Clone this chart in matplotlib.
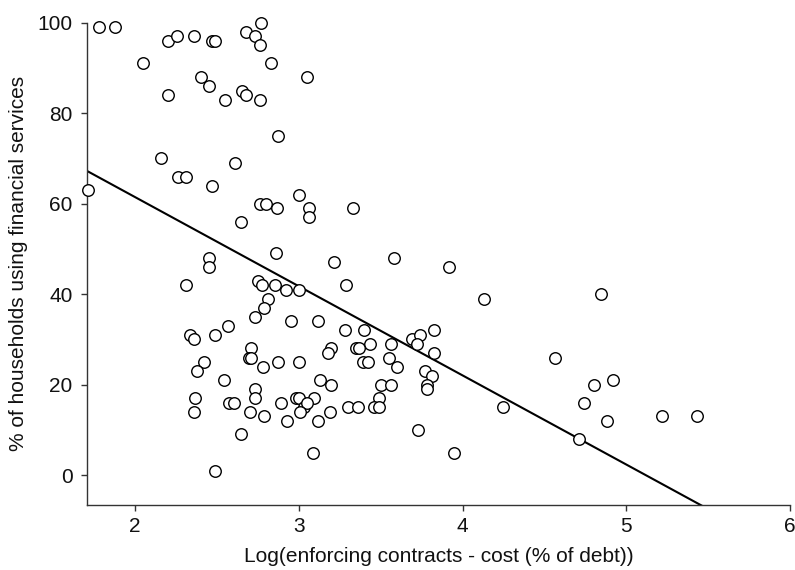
import numpy as np
import matplotlib
matplotlib.use('Agg')
import matplotlib.pyplot as plt

plt.rcParams['font.family'] = ['Liberation Sans', 'DejaVu Sans']

# log of contract enforcement cost (% of debt)
log_cost = [1.78, 1.88, 2.20, 2.255, 2.357, 2.47, 2.49, 2.68, 2.73, 2.77,
            2.76, 2.05, 2.83, 3.05, 2.40, 2.45, 2.20, 2.55, 2.65, 2.68,
            2.76, 2.87, 2.16, 2.61, 2.265, 2.31, 2.47, 1.715, 2.76, 2.80,
            3.00, 2.867, 3.064, 3.064, 2.646, 3.33, 2.862, 2.45, 2.45, 3.213,
            3.58, 3.916, 2.31, 2.748, 2.775, 2.856, 3.29, 2.92, 3.00, 4.133,
            2.81, 2.79, 2.734, 2.954, 3.115, 2.565, 3.282, 3.396, 3.692, 3.743,
            3.825, 3.72, 3.825, 3.56, 3.437, 3.352, 3.366, 3.197, 3.176, 2.875,
            3.00, 3.393, 3.42, 3.55, 3.60, 3.77, 3.815, 3.784, 3.784, 3.13,
            3.197, 3.50, 3.566, 3.488, 3.457, 3.488, 3.30, 3.362, 2.89, 2.985,
            3.00, 3.09, 3.03, 3.05, 3.01, 3.19, 2.928, 3.12, 4.247, 3.725,
            3.087, 3.945, 2.336, 2.357, 2.49, 2.71, 2.693, 2.71, 2.78, 2.42,
            2.377, 2.546, 2.734, 2.734, 2.367, 2.357, 2.571, 2.607, 2.70, 2.79,
            2.646, 2.49, 4.848, 4.565, 4.80, 4.92, 4.742, 4.885, 5.217, 5.43,
            4.714]

# % of households using financial services
pct_households = [99, 99, 96, 97, 97, 96, 96, 98, 97, 100,
                  95, 91, 91, 88, 88, 86, 84, 83, 85, 84,
                  83, 75, 70, 69, 66, 66, 64, 63, 60, 60,
                  62, 59, 59, 57, 56, 59, 49, 48, 46, 47,
                  48, 46, 42, 43, 42, 42, 42, 41, 41, 39,
                  39, 37, 35, 34, 34, 33, 32, 32, 30, 31,
                  32, 29, 27, 29, 29, 28, 28, 28, 27, 25,
                  25, 25, 25, 26, 24, 23, 22, 20, 19, 21,
                  20, 20, 20, 17, 15, 15, 15, 15, 16, 17,
                  17, 17, 15, 16, 14, 14, 12, 12, 15, 10,
                  5, 5, 31, 30, 31, 28, 26, 26, 24, 25,
                  23, 21, 19, 17, 17, 14, 16, 16, 14, 13,
                  9, 1, 40, 26, 20, 21, 16, 12, 13, 13,
                  8]

# fitted line
fit_intercept = 100.85
fit_slope = -19.7

x_ticks = [2, 3, 4, 5, 6]
y_ticks = [0, 20, 40, 60, 80, 100]

fig = plt.figure(figsize=(7.95, 5.70), dpi=100)
ax = fig.add_axes([0.1098, 0.114, 0.8839, 0.8462])

ax.plot(log_cost, pct_households, linestyle='none', marker='o', markersize=8.3,
        markerfacecolor='white', markeredgecolor='black', markeredgewidth=1.0,
        clip_on=False, zorder=3)

xl = np.array([1.708, 6.0])
ax.plot(xl, fit_intercept + fit_slope * xl, color='black', linewidth=1.5, zorder=2)

ax.set_xlim(1.708, 6.0)
ax.set_ylim(-6.6, 100)
ax.set_xticks(x_ticks)
ax.set_yticks(y_ticks)

for s in ['top', 'right']:
    ax.spines[s].set_visible(False)
for s in ['left', 'bottom']:
    ax.spines[s].set_color('#333333')
    ax.spines[s].set_linewidth(1.0)

ax.tick_params(axis='both', direction='out', length=4.5, width=1.0,
               color='#333333', labelsize=15, labelcolor='#111111')
ax.tick_params(axis='y', pad=6)
ax.tick_params(axis='x', pad=4)
ax.set_xlabel('Log(enforcing contracts - cost (% of debt))', fontsize=15,
              color='#111111', labelpad=8)
ax.set_ylabel('% of households using financial services', fontsize=15,
              color='#111111', labelpad=7)

plt.savefig('out.png', dpi=100)
